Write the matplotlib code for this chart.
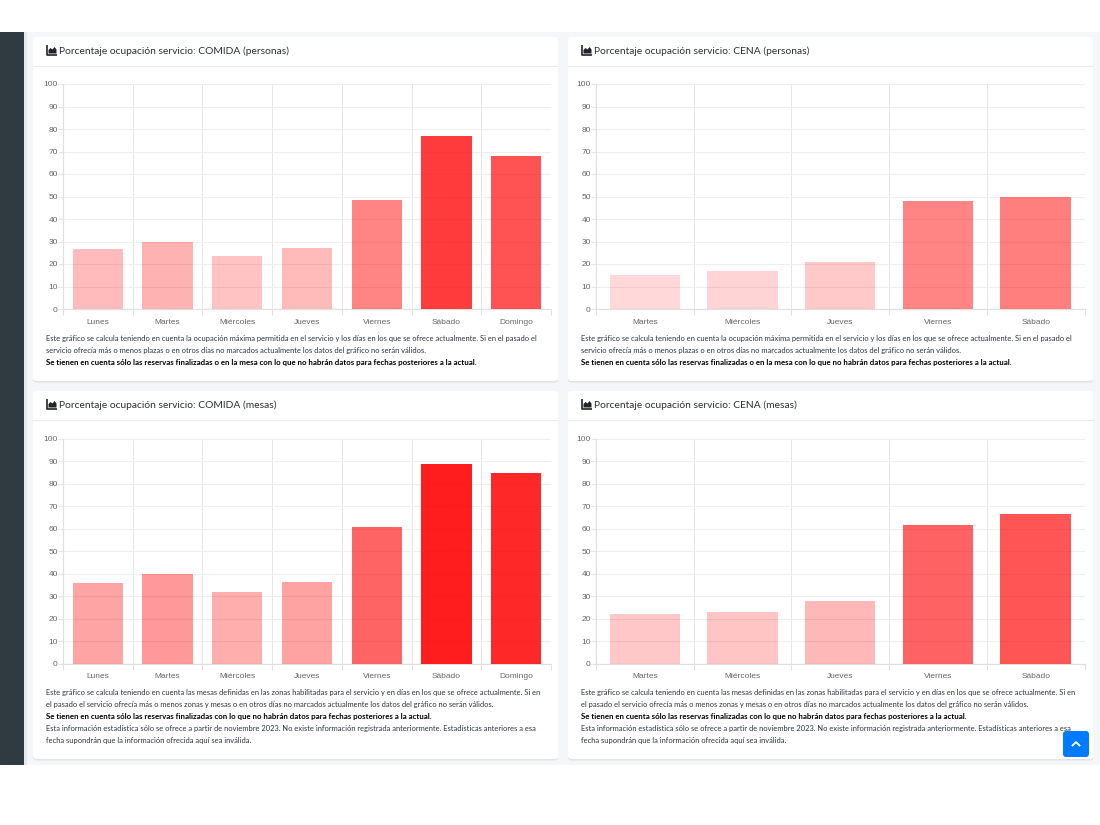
"""Panel de ocupación por servicio: cuatro tarjetas con gráfico de barras"""
import matplotlib
matplotlib.use('Agg')
import matplotlib.pyplot as plt
from matplotlib.patches import FancyBboxPatch, Polygon, Rectangle

W, H = 1100, 825
FONT = ['Lato', 'DejaVu Sans']

dias_comida = ['Lunes', 'Martes', 'Miércoles', 'Jueves', 'Viernes', 'Sábado', 'Domingo']
dias_cena = ['Martes', 'Miércoles', 'Jueves', 'Viernes', 'Sábado']

comida_personas = [26.5, 30, 23.5, 27, 48.3, 77, 67.8]
cena_personas = [15, 17, 21, 48.2, 50]
comida_mesas = [35.7, 40, 31.7, 36.5, 60.6, 88.5, 84.5]
cena_mesas = [22, 23, 28, 61.7, 66.5]

titulos = [
    'Porcentaje ocupación servicio: COMIDA (personas)',
    'Porcentaje ocupación servicio: CENA (personas)',
    'Porcentaje ocupación servicio: COMIDA (mesas)',
    'Porcentaje ocupación servicio: CENA (mesas)',
]

notas_personas = [
    ('Este gráfico se calcula teniendo en cuenta la ocupación máxima permitida en el servicio y los días en los que se ofrece actualmente. Si en el pasado el', False),
    ('servicio ofrecía más o menos plazas o en otros días no marcados actualmente los datos del gráfico no serán válidos.', False),
    ('Se tienen en cuenta sólo las reservas finalizadas o en la mesa con lo que no habrán datos para fechas posteriores a la actual.', True),
]
notas_mesas = [
    ('Este gráfico se calcula teniendo en cuenta las mesas definidas en las zonas habilitadas para el servicio y en días en los que se ofrece actualmente. Si en', False),
    ('el pasado el servicio ofrecía más o menos zonas y mesas o en otros días no marcados actualmente los datos del gráfico no serán válidos.', False),
    ('Se tienen en cuenta sólo las reservas finalizadas con lo que no habrán datos para fechas posteriores a la actual.', True),
    ('Esta información estadística sólo se ofrece a partir de noviembre 2023. No existe información registrada anteriormente. Estadísticas anteriores a esa', False),
    ('fecha supondrán que la información ofrecida aquí sea inválida.', False),
]


def px(size):
    return size * 72 / 100


def tarjeta(bg, x0, y0, x1, y1, titulo, notas, y_nota):
    # sombra, cuerpo y separador de la cabecera
    bg.add_patch(FancyBboxPatch((x0, y0 + 1.5), x1 - x0, y1 - y0, boxstyle='round,pad=0,rounding_size=3',
                                fc='#dfe2e6', ec='none'))
    bg.add_patch(FancyBboxPatch((x0, y0), x1 - x0, y1 - y0, boxstyle='round,pad=0,rounding_size=3',
                                fc='white', ec='none'))
    bg.plot([x0, x1], [y0 + 28.5, y0 + 28.5], color='#e9ebee', lw=0.8)

    # icono de gráfico de área
    ix, iy = x0 + 13.5, y0 + 8
    bg.plot([ix, ix, ix + 10.5], [iy, iy + 10, iy + 10], color='#212529', lw=1.2, solid_capstyle='butt')
    bg.add_patch(Polygon([(ix + 2, iy + 8.5), (ix + 2, iy + 5), (ix + 4, iy + 3), (ix + 6, iy + 4.5),
                          (ix + 8, iy + 2), (ix + 10, iy + 4.5), (ix + 10, iy + 8.5)],
                         fc='#212529', ec='none'))
    bg.text(x0 + 26, y0 + 14.5, titulo, fontsize=px(10.25), color='#2b3035', va='center', family=FONT)

    for i, (linea, negrita) in enumerate(notas):
        bg.text(x0 + 13, y_nota + i * 12, linea, fontsize=px(7.87 if negrita else 7.5), va='center', family=FONT,
                color='black' if negrita else '#2b3540', fontweight='bold' if negrita else 'normal')


def grafico(x0, x1, y_top, y_bot, dias, valores):
    ax = fig.add_axes([x0 / W, 1 - y_bot / H, (x1 - x0) / W, (y_bot - y_top) / H])
    n = len(dias)
    # la opacidad de cada barra sigue al porcentaje
    colores = [(1, 0, 0, v / 100) for v in valores]
    ax.bar(range(n), valores, width=0.72, color=colores, zorder=3)
    ax.set_xlim(-0.5, n - 0.5)
    ax.set_ylim(0, 100)
    ax.set_yticks(range(0, 101, 10))
    ax.set_xticks([i - 0.5 for i in range(n + 1)])
    ax.set_xticklabels([])
    ax.set_xticks(range(n), dias, minor=True)
    ax.grid(True, which='major', axis='y', color='#eeeeee', lw=0.8, zorder=0)
    ax.grid(True, which='major', axis='x', color='#e6e6e6', lw=0.7, zorder=0)
    ax.tick_params(axis='x', which='major', color='#e0e0e0', width=0.7, length=4.3)
    ax.tick_params(axis='y', which='major', color='#e6e6e6', width=0.8, length=3.3, pad=0.5)
    ax.tick_params(axis='x', which='minor', length=0, pad=7)
    ax.tick_params(axis='both', which='both', labelsize=px(8.4), labelcolor='#666666')
    for lab in ax.get_xticklabels(minor=True) + ax.get_yticklabels():
        lab.set_family(['Liberation Sans', 'DejaVu Sans'])
    for lado in ['top', 'right']:
        ax.spines[lado].set_visible(False)
    for lado in ['left', 'bottom']:
        ax.spines[lado].set_color('#e0e0e0')
        ax.spines[lado].set_linewidth(0.9)
    ax.patch.set_alpha(0)
    return ax


fig = plt.figure(figsize=(W / 100, H / 100), dpi=100, facecolor='white')

# capa de fondo en píxeles: contenido, barra lateral y tarjetas
bg = fig.add_axes([0, 0, 1, 1])
bg.set_xlim(0, W)
bg.set_ylim(H, 0)
bg.axis('off')
bg.add_patch(Rectangle((24, 32), W - 24, 733, fc='#f4f6f9', ec='none'))
bg.add_patch(Rectangle((24, 32), 3, 733, fc='#e6e8eb', ec='none'))
bg.add_patch(Rectangle((0, 32), 24, 733, fc='#2f3a41', ec='none'))

tarjeta(bg, 33, 37, 558, 381, titulos[0], notas_personas, 339)
tarjeta(bg, 568, 37, 1093, 381, titulos[1], notas_personas, 339)
tarjeta(bg, 33, 391, 558, 759, titulos[2], notas_mesas, 693)
tarjeta(bg, 568, 391, 1093, 759, titulos[3], notas_mesas, 693)

grafico(63, 551, 84, 309, dias_comida, comida_personas)
grafico(596, 1084.5, 84, 309, dias_cena, cena_personas)
grafico(63, 551, 438.5, 663.7, dias_comida, comida_mesas)
grafico(596, 1084.5, 438.5, 663.7, dias_cena, cena_mesas)

# botón de volver arriba, por encima de todo
top = fig.add_axes([0, 0, 1, 1])
top.set_xlim(0, W)
top.set_ylim(H, 0)
top.axis('off')
top.patch.set_alpha(0)
top.add_patch(FancyBboxPatch((1063, 731), 26, 26, boxstyle='round,pad=0,rounding_size=3', fc='#007bff', ec='none'))
top.plot([1072.5, 1076, 1079.5], [745.5, 742, 745.5], color='white', lw=1.3)

fig.savefig('out.png', dpi=100)
